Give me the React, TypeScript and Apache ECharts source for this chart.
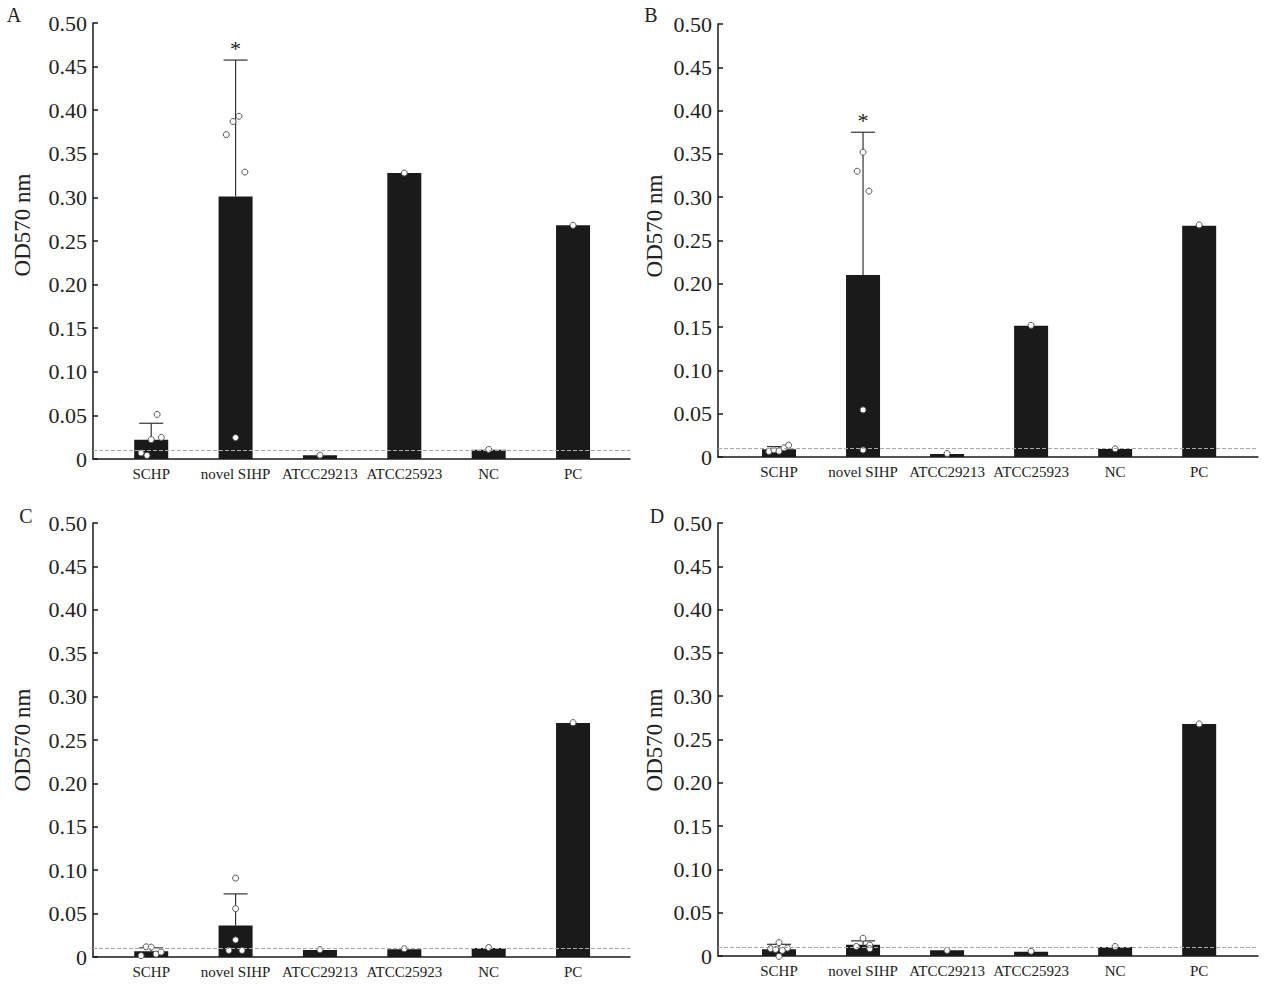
import React, { useEffect, useRef } from "react";
import * as echarts from "echarts";

const categories = ["SCHP", "novel SIHP", "ATCC29213", "ATCC25923", "NC", "PC"];
const threshold = 0.01;

// Panel A
const meansA = [0.022, 0.301, 0.0044, 0.328, 0.0107, 0.268];
const errTopA = [0.041, 0.4575, null, null, null, null];
const sigA = [false, true, false, false, false, false];
const pointsA = [
  [0.0511, 0.0222, 0.0248, 0.007, 0.0041],
  [0.393, 0.387, 0.372, 0.329, 0.0245],
  [0.0044],
  [0.328],
  [0.011],
  [0.268],
];
const jitterA = [[0.07, 0, 0.12, -0.12, -0.05], [0.04, -0.03, -0.11, 0.11, 0], [0], [0], [0], [0]];

// Panel B
const meansB = [0.009, 0.2103, 0.0035, 0.1516, 0.0093, 0.267];
const errTopB = [0.012, 0.375, null, null, null, null];
const sigB = [false, true, false, false, false, false];
const pointsB = [
  [0.0064, 0.0083, 0.0068, 0.0106, 0.0136],
  [0.352, 0.33, 0.307, 0.0544, 0.0081],
  [0.004],
  [0.152],
  [0.0095],
  [0.268],
];
const jitterB = [[-0.12, -0.06, 0, 0.06, 0.115], [0, -0.07, 0.07, 0, 0], [0], [0], [0], [0]];

// Panel C
const meansC = [0.0067, 0.0363, 0.008, 0.009, 0.0105, 0.2696];
const errTopC = [0.0105, 0.0727, null, null, null, null];
const sigC = [false, false, false, false, false, false];
const pointsC = [
  [0.0015, 0.0117, 0.0114, 0.0034, 0.0057],
  [0.0909, 0.0557, 0.0197, 0.0076, 0.0076],
  [0.0085],
  [0.0095],
  [0.011],
  [0.27],
];
const jitterC = [[-0.12, -0.06, 0, 0.057, 0.118], [0, 0, 0, -0.08, 0.076], [0], [0], [0], [0]];

// Panel D
const meansD = [0.0078, 0.013, 0.0065, 0.005, 0.0105, 0.268];
const errTopD = [0.0135, 0.0175, null, null, null, null];
const sigD = [false, false, false, false, false, false];
const pointsD = [
  [0.0155, 0.0085, 0.0092, 0.0075, 0.0065, -0.0005],
  [0.0205, 0.011, 0.0125, 0.0085],
  [0.0065],
  [0.0055],
  [0.011],
  [0.268],
];
const jitterD = [[0, -0.1, 0.1, -0.04, 0.04, 0], [0, -0.08, 0.08, 0.08], [0], [0], [0], [0]];

const FONT = "'Liberation Serif', 'Times New Roman', serif";

const panels = [
  { letter: "A", means: meansA, errTop: errTopA, sig: sigA, points: pointsA, jitter: jitterA,
    grid: { left: 93, top: 23, width: 537, height: 436 }, xMin: -0.69, xMax: 5.675, lx: 14, ly: 15, nx: 22, ny: 225 },
  { letter: "B", means: meansB, errTop: errTopB, sig: sigB, points: pointsB, jitter: jitterB,
    grid: { left: 718, top: 24, width: 540, height: 433 }, xMin: -0.726, xMax: 5.7, lx: 651, ly: 15, nx: 654, ny: 226 },
  { letter: "C", means: meansC, errTop: errTopC, sig: sigC, points: pointsC, jitter: jitterC,
    grid: { left: 93, top: 523, width: 537, height: 434 }, xMin: -0.69, xMax: 5.675, lx: 26, ly: 516, nx: 22, ny: 740 },
  { letter: "D", means: meansD, errTop: errTopD, sig: sigD, points: pointsD, jitter: jitterD,
    grid: { left: 718, top: 523, width: 540, height: 433 }, xMin: -0.726, xMax: 5.7, lx: 657, ly: 516, nx: 654, ny: 740 },
];

export default function App() {
  const ref = useRef<HTMLDivElement>(null);
  useEffect(() => {
    if (!ref.current) return;
    const chart = echarts.init(ref.current, undefined, { renderer: "svg" });
    const grid: any[] = [];
    const xAxis: any[] = [];
    const yAxis: any[] = [];
    const series: any[] = [];
    const graphic: any[] = [];
    panels.forEach((p, k) => {
      grid.push({ ...p.grid });
      xAxis.push({
        type: "value", gridIndex: k, min: p.xMin, max: p.xMax,
        axisLine: { show: true, onZero: false, lineStyle: { color: "#1a1a1a", width: 1.5 } },
        axisTick: { show: false },
        splitLine: { show: false },
        axisLabel: {
          customValues: [0, 1, 2, 3, 4, 5],
          formatter: (v: number) => categories[Math.round(v)] ?? "",
          fontFamily: FONT, fontSize: 15, color: "#222", margin: 7,
        },
      });
      yAxis.push({
        type: "value", gridIndex: k, min: 0, max: 0.5, interval: 0.05,
        axisLine: { show: true, onZero: false, lineStyle: { color: "#1a1a1a", width: 1.5 } },
        axisTick: { show: true, length: 5, inside: true, lineStyle: { color: "#1a1a1a", width: 1.5 } },
        splitLine: { show: false },
        axisLabel: {
          formatter: (v: number) => (Math.abs(v) < 1e-9 ? "0" : v.toFixed(2)),
          fontFamily: FONT, fontSize: 22, color: "#222", margin: 6,
        },
      });
      series.push({
        type: "bar", xAxisIndex: k, yAxisIndex: k, barWidth: 34,
        data: p.means.map((m, i) => [i, m]),
        itemStyle: { color: "#1a1a1a" },
        markLine: {
          silent: true, symbol: ["none", "none"], label: { show: false },
          lineStyle: { type: "dashed", color: "#aaa", width: 1 },
          data: [{ yAxis: threshold }],
        },
        z: 2,
      });
      const errData = p.errTop
        .map((t, i) => (t == null ? null : [i, p.means[i], t, p.sig[i] ? 1 : 0]))
        .filter((d) => d != null);
      series.push({
        type: "custom", xAxisIndex: k, yAxisIndex: k, z: 3,
        data: errData,
        renderItem: (params: any, api: any) => {
          const x = api.value(0), m = api.value(1), t = api.value(2), s = api.value(3);
          const p0 = api.coord([x, m]);
          const p1 = api.coord([x, t]);
          const hw = 12;
          const children: any[] = [
            { type: "line", shape: { x1: p0[0], y1: p0[1], x2: p1[0], y2: p1[1] }, style: { stroke: "#333", lineWidth: 1.2 } },
            { type: "line", shape: { x1: p1[0] - hw, y1: p1[1], x2: p1[0] + hw, y2: p1[1] }, style: { stroke: "#333", lineWidth: 1.2 } },
          ];
          if (s) {
            children.push({
              type: "text", x: p1[0], y: p1[1] - 1,
              style: { text: "*", fontFamily: FONT, fontSize: 22, fill: "#222", align: "center", verticalAlign: "bottom" },
            });
          }
          return { type: "group", children };
        },
      });
      const pts: number[][] = [];
      p.points.forEach((arr, i) => arr.forEach((v, j) => pts.push([i + p.jitter[i][j], v])));
      series.push({
        type: "scatter", xAxisIndex: k, yAxisIndex: k, z: 4, clip: false,
        symbol: "circle", symbolSize: 6,
        itemStyle: { color: "#fff", borderColor: "#555", borderWidth: 1, opacity: 1 },
        data: pts,
      });
      graphic.push({
        type: "text", x: p.lx, y: p.ly,
        style: { text: p.letter, fontFamily: FONT, fontSize: 20, fill: "#222", align: "center", verticalAlign: "middle" },
      });
      graphic.push({
        type: "text", x: p.nx, y: p.ny, rotation: Math.PI / 2,
        style: { text: "OD570 nm", fontFamily: FONT, fontSize: 23, fill: "#222", align: "center", verticalAlign: "middle" },
      });
    });
    chart.setOption({
      animation: false,
      backgroundColor: "#fff",
      grid, xAxis, yAxis, series, graphic,
    });
    return () => chart.dispose();
  }, []);
  return <div ref={ref} style={{ position: "absolute", left: 0, top: 0, width: 1270, height: 988 }} />;
}
